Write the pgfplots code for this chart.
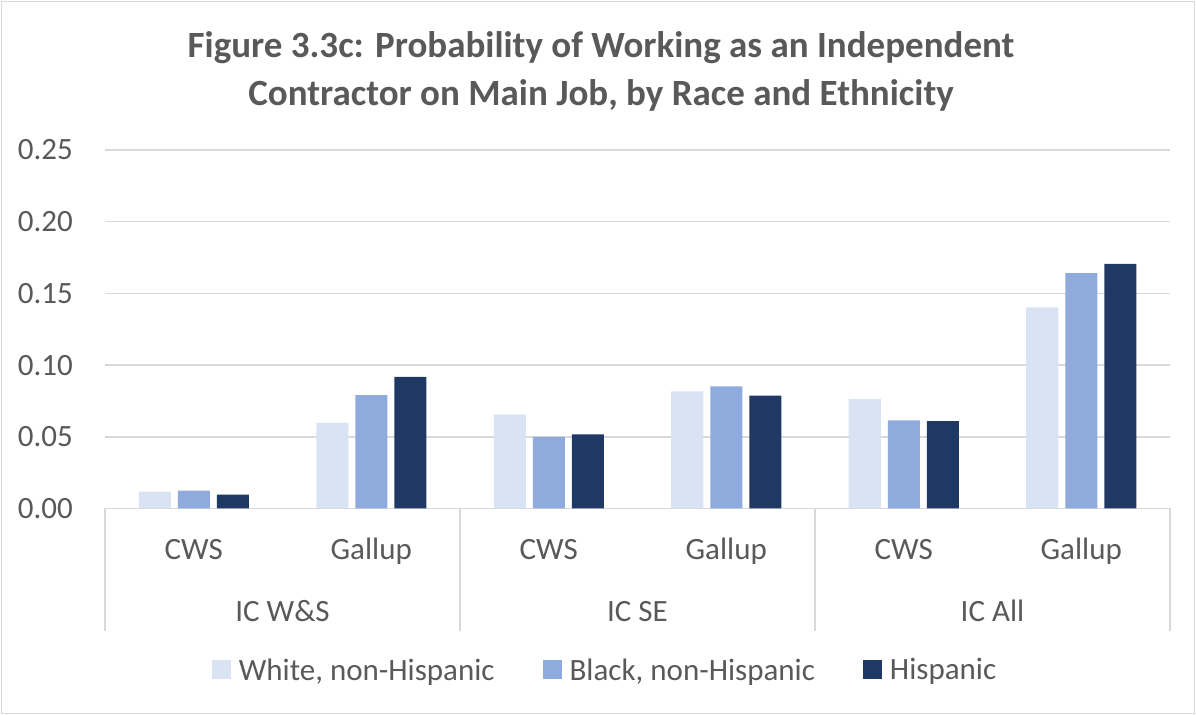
\documentclass[border=0pt]{standalone}
\usepackage{fontspec}
\setmainfont{Carlito}
\usepackage{pgfplots}
\pgfplotsset{compat=1.18}
\definecolor{cLight}{HTML}{DAE3F3}
\definecolor{cMed}{HTML}{8FAADC}
\definecolor{cDark}{HTML}{203864}
\definecolor{txt}{HTML}{595959}
\definecolor{gridc}{HTML}{D9D9D9}
\begin{document}
\begin{tikzpicture}[x=1bp,y=1bp]
\useasboundingbox (0,0) rectangle (1196,715);
\draw[gridc, line width=1.5bp] (1.5,1.5) rectangle (1194.5,713.5);
\node[text=txt, font=\fontsize{37bp}{48bp}\selectfont\bfseries, align=center] at (601,644) {Figure 3.3c: Probability of Working as an Independent\\Contractor on Main Job, by Race and Ethnicity};
\begin{axis}[
  at={(105bp,206.5bp)}, anchor=south west,
  scale only axis, width=1065bp, height=358.5bp,
  ymin=0, ymax=0.25, ytick={0,0.05,0.10,0.15,0.20,0.25},
  xmin=-0.5, xmax=5.5, xtick={0,1,2,3,4,5},
  xticklabels={CWS,Gallup,CWS,Gallup,CWS,Gallup},
  ybar=7bp, bar width=32bp,
  axis line style={draw=none}, major tick length=0pt,
  ymajorgrids, grid style={gridc, line width=1.5bp},
  clip=false,
  ticklabel style={font=\fontsize{31bp}{37bp}\selectfont, text=txt},
  yticklabel style={anchor=east, inner sep=0pt, xshift=-32bp,
    /pgf/number format/.cd, fixed, fixed zerofill, precision=2, assume math mode=true},
  xticklabel style={anchor=base, inner sep=0pt, yshift=-51.5bp},
  legend style={at={(0.4695,-0.4505)}, anchor=center, draw=none, fill=none,
    legend columns=3, font=\fontsize{31bp}{37bp}\selectfont, text=txt,
    /tikz/every even column/.append style={column sep=46bp},
    /tikz/every odd column/.append style={column sep=6bp}},
  legend image code/.code={\fill[#1] (0bp,-9bp) rectangle (19bp,10bp);},
]
\addplot[fill=cLight, draw=none] coordinates {(0,0.0118) (1,0.0597) (2,0.0657) (3,0.0817) (4,0.0762) (5,0.1403)};
\addplot[fill=cMed, draw=none] coordinates {(0,0.0125) (1,0.0790) (2,0.0500) (3,0.0852) (4,0.0615) (5,0.1641)};
\addplot[fill=cDark, draw=none] coordinates {(0,0.0097) (1,0.0917) (2,0.0517) (3,0.0787) (4,0.0610) (5,0.1706)};
\legend{{White, non-Hispanic},{Black, non-Hispanic},Hispanic}
\foreach \s in {-0.5,1.5,3.5,5.5}{
  \edef\tmp{\noexpand\draw[gridc, line width=1.5bp] (axis cs:\s,0) -- ([yshift=-123bp]axis cs:\s,0);}\tmp
}
\node[anchor=base, yshift=-113.5bp, font=\fontsize{31bp}{37bp}\selectfont, text=txt] at (axis cs:0.5,0) {IC W\&S};
\node[anchor=base, yshift=-113.5bp, font=\fontsize{31bp}{37bp}\selectfont, text=txt] at (axis cs:2.5,0) {IC SE};
\node[anchor=base, yshift=-113.5bp, font=\fontsize{31bp}{37bp}\selectfont, text=txt] at (axis cs:4.5,0) {IC All};
\end{axis}
\end{tikzpicture}
\end{document}
